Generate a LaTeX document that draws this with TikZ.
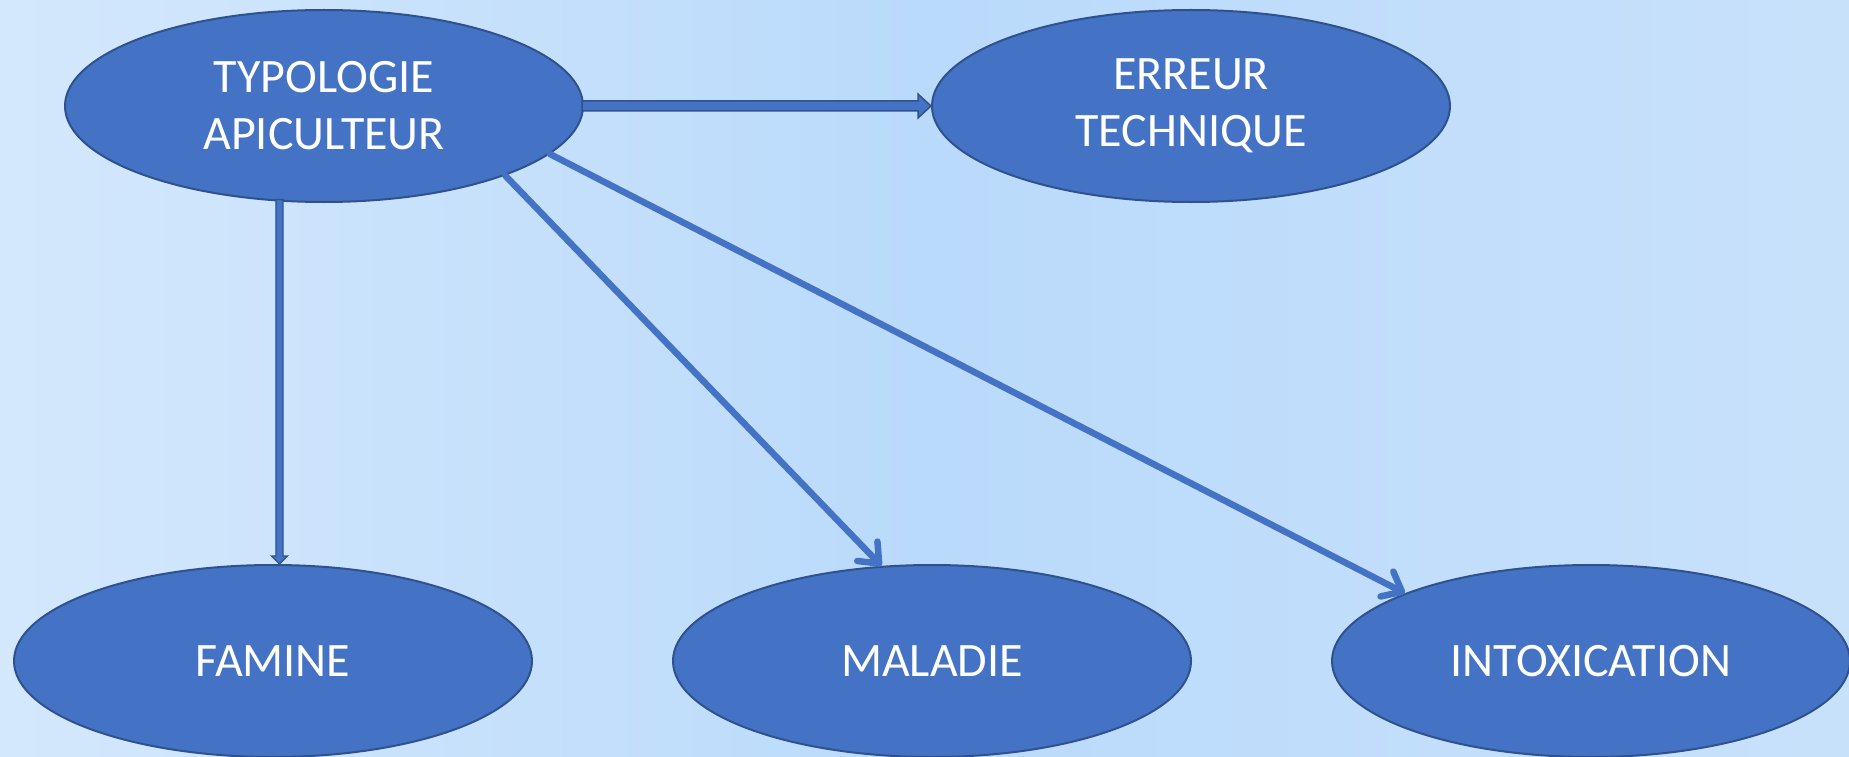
\documentclass[tikz,border=0pt]{standalone}
\usepackage{fontspec}
\setmainfont{Carlito}
\usetikzlibrary{arrows.meta,calc,shapes.geometric}
\definecolor{ellfill}{RGB}{68,114,196}
\definecolor{ellborder}{RGB}{47,82,143}
\definecolor{bgA}{RGB}{212,232,252}
\definecolor{bgB}{RGB}{186,218,251}
\definecolor{bgC}{RGB}{200,225,251}
\tikzset{
  bubble/.style={ellipse, draw=ellborder, line width=2pt, fill=ellfill,
    minimum width=518pt, minimum height=192pt, inner sep=0pt,
    text=white, align=center, font=\fontsize{48}{57}\selectfont},
  linearrow/.style={draw=ellfill, line width=6.5pt, line cap=round,
    -{Straight Barb[length=17pt, width=28pt, round]}},
  blockarrow/.style={fill=ellfill, draw=ellborder, line width=1.5pt, line join=miter}
}
\begin{document}
\begin{tikzpicture}[x=1pt,y=-1pt]
\useasboundingbox (0,0) rectangle (1849,757);
\shade[left color=bgA, right color=bgC, middle color=bgB] (0,0) rectangle (1849,757);

\node[bubble] (typ) at (324,106) {TYPOLOGIE\\APICULTEUR};
\node[bubble] (err) at (1191,106) {ERREUR\\TECHNIQUE};
\node[bubble] (fam) at (273,661) {FAMINE};
\node[bubble] (mal) at (932,661) {MALADIE};
\node[bubble] (int) at (1591,661) {INTOXICATION};

% horizontal block arrow
\draw[blockarrow] ($(typ.east)+(-2,-5)$) -- ($(err.west)+(-13,-5)$) -- ($(err.west)+(-13,-12)$)
  -- (err.west) -- ($(err.west)+(-13,12)$) -- ($(err.west)+(-13,5)$) -- ($(typ.east)+(-2,5)$) -- cycle;

% vertical block arrow
\coordinate (vs) at (typ.245.6);
\coordinate (ve) at (vs |- fam.north);
\draw[blockarrow, line width=1.2pt] ($(vs)+(-3.5,-2)$) -- ($(ve)+(-3.5,-8)$) -- ($(ve)+(-8,-8)$)
  -- (ve) -- ($(ve)+(8,-8)$) -- ($(ve)+(3.5,-8)$) -- ($(vs)+(3.5,-2)$) -- cycle;

% diagonal arrows
\draw[linearrow] (typ.339.6) -- (mal.118.9);
\draw[linearrow] (typ.348.7) -- (int.160.2);
\end{tikzpicture}
\end{document}
